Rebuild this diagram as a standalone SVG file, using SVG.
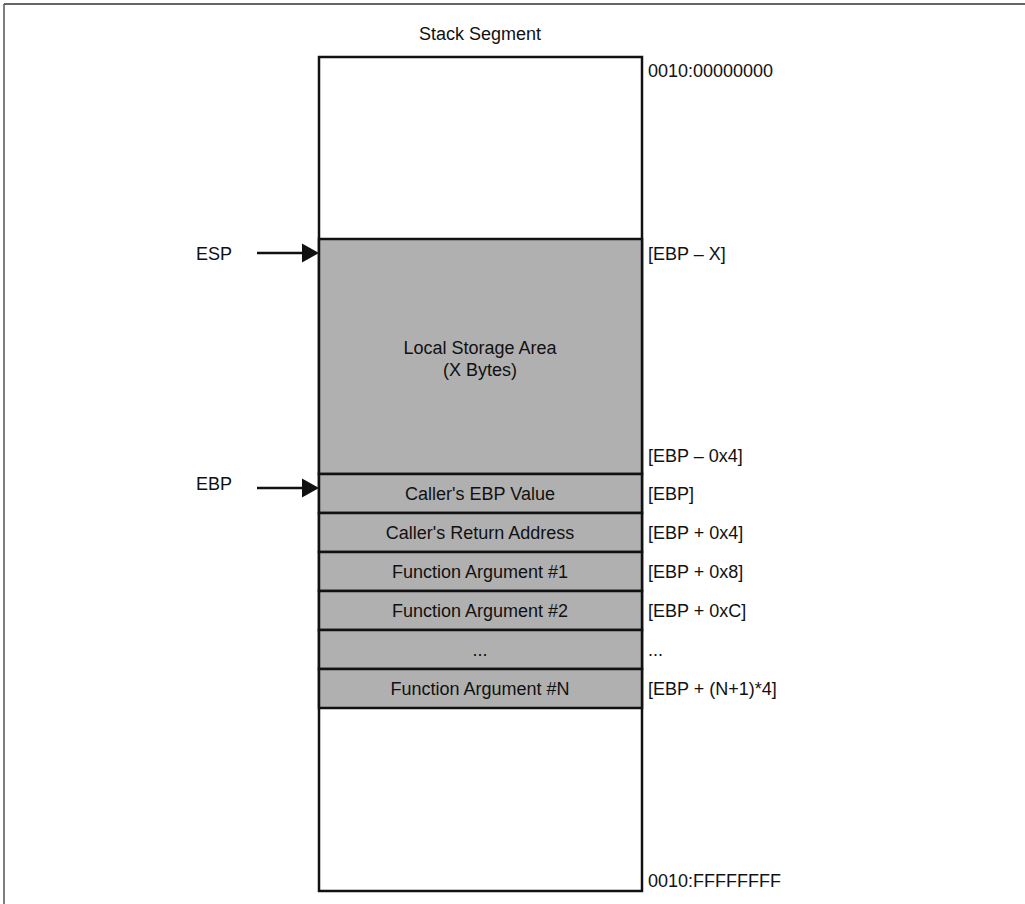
<svg xmlns="http://www.w3.org/2000/svg" width="1025" height="904" viewBox="0 0 1025 904">
<defs>
<style>
text{font-family:"Liberation Sans",Arial,sans-serif;font-size:18px;fill:#111}
.c{text-anchor:middle}
.cell{fill:#b0b0b0;stroke:#111;stroke-width:2.5}
.box{fill:#fff;stroke:#111;stroke-width:2.5}
.conn{stroke:#111;stroke-width:2.5;fill:none}
</style>
</defs>
<rect width="1025" height="904" fill="#fff"/>
<g id="frame">
<line x1="4" y1="4" x2="1025" y2="4" stroke="#333" stroke-width="1.5"/>
<line x1="4" y1="4" x2="4" y2="904" stroke="#555" stroke-width="1.5"/>
</g>
<text class="c" x="480" y="40">Stack Segment</text>
<g id="stack">
<rect class="box" x="319" y="57" width="323" height="834"/>
</g>
<g id="local">
<rect class="cell" x="319" y="239" width="323" height="235"/>
<text class="c" x="480" y="354">Local Storage Area</text>
<text class="c" x="480" y="376">(X Bytes)</text>
</g>
<g id="ebpval">
<rect class="cell" x="319" y="474" width="323" height="39"/>
<text class="c" x="480" y="500">Caller's EBP Value</text>
</g>
<g id="retaddr">
<rect class="cell" x="319" y="513" width="323" height="39"/>
<text class="c" x="480" y="539">Caller's Return Address</text>
</g>
<g id="arg1">
<rect class="cell" x="319" y="552" width="323" height="39"/>
<text class="c" x="480" y="578">Function Argument #1</text>
</g>
<g id="arg2">
<rect class="cell" x="319" y="591" width="323" height="39"/>
<text class="c" x="480" y="617">Function Argument #2</text>
</g>
<g id="argdots">
<rect class="cell" x="319" y="630" width="323" height="39"/>
<text class="c" x="480" y="656">...</text>
</g>
<g id="argN">
<rect class="cell" x="319" y="669" width="323" height="39"/>
<text class="c" x="480" y="695">Function Argument #N</text>
</g>
<g id="labels">
<text x="648" y="77">0010:00000000</text>
<text x="648" y="260">[EBP – X]</text>
<text x="648" y="462">[EBP – 0x4]</text>
<text x="648" y="500">[EBP]</text>
<text x="648" y="539">[EBP + 0x4]</text>
<text x="648" y="578">[EBP + 0x8]</text>
<text x="648" y="617">[EBP + 0xC]</text>
<text x="648" y="656">...</text>
<text x="648" y="695">[EBP + (N+1)*4]</text>
<text x="648" y="887">0010:FFFFFFFF</text>
</g>
<g id="esp">
<text x="196" y="260">ESP</text>
</g>
<g id="ebp">
<text x="196" y="490">EBP</text>
</g>
<g id="connectors">
<line class="conn" x1="257" y1="253" x2="305" y2="253"/>
<path d="M302,243.5 L319,253 L302,262.5 Z" fill="#111"/>
<line class="conn" x1="257" y1="488" x2="305" y2="488"/>
<path d="M302,478.5 L319,488 L302,497.5 Z" fill="#111"/>
</g>
</svg>
